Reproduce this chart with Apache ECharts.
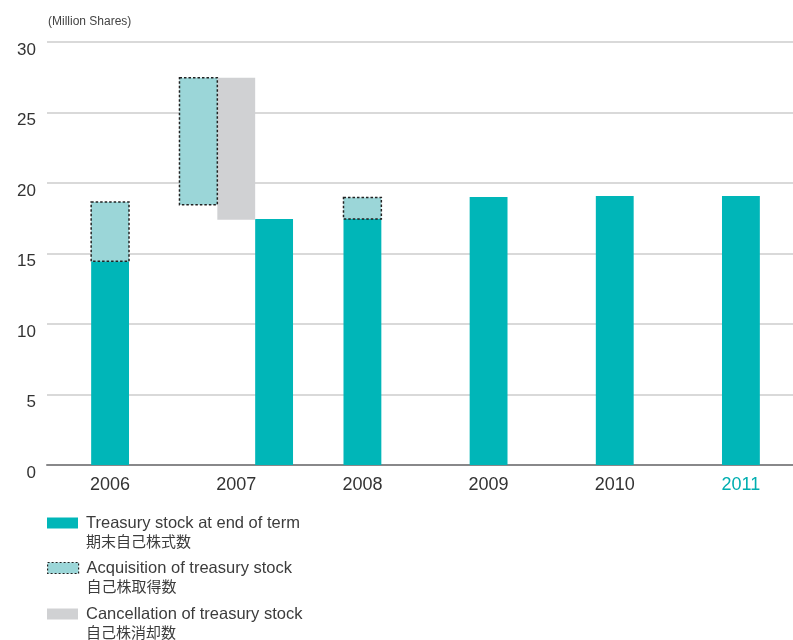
<!DOCTYPE html>
<html>
<head>
<meta charset="utf-8">
<script src="https://cdn.jsdelivr.net/npm/echarts@6/dist/echarts.min.js"></script>
<style>html,body{margin:0;padding:0;background:#fff}#c{width:793px;height:640px}</style>
</head>
<body>
<div id="c"></div>
<script>
var years = ['2006', '2007', '2008', '2009', '2010', '2011'];
var yTicks = [0, 5, 10, 15, 20, 25, 30];
var endStock = [14.45, 17.45, 17.45, 19.0, 19.07, 19.07];
var acqFrom = [14.45, 18.45, 17.45, null, null, null];
var acqTo = [18.65, 27.47, 18.98, null, null, null];
var cancelFrom = [null, 17.4, null, null, null, null];
var cancelTo = [null, 27.47, null, null, null, null];
var seriesNames = ['Treasury stock at end of term', 'Acquisition of treasury stock', 'Cancellation of treasury stock'];
var seriesNamesJa = ['期末自己株式数', '自己株取得数', '自己株消却数'];

var TEAL = '#00b6b8', LIGHT = '#9bd6d8', GRAY = '#d0d1d3';
var FONT = "'Liberation Sans', Arial, sans-serif";

// slot layout: when a year has a cancellation, acquisition | cancellation | end sit side by side;
// otherwise all bars of the year share the centre slot.
function slotFor(i, kind) {
  if (cancelTo[i] == null) return 0;
  return kind === 'acq' ? -1 : (kind === 'cancel' ? 0 : 1);
}
function build(fromArr, toArr, kind) {
  var out = [];
  for (var i = 0; i < years.length; i++) {
    if (toArr[i] == null) continue;
    out.push([i, fromArr ? fromArr[i] : 0, toArr[i], slotFor(i, kind)]);
  }
  return out;
}
function makeRender(style) {
  return function (params, api) {
    var cat = api.value(0), lo = api.value(1), hi = api.value(2), slot = api.value(3);
    var band = api.size([1, 0])[0];
    var w = band * 0.3;
    var pLo = api.coord([cat, lo]);
    var pHi = api.coord([cat, hi]);
    var x = pLo[0] + slot * w - w / 2;
    return {
      type: 'rect',
      shape: { x: x, y: pHi[1], width: w, height: pLo[1] - pHi[1] },
      style: style
    };
  };
}

var chart = echarts.init(document.getElementById('c'), null, { renderer: 'canvas' });

function legendFor(idx, top, iconStyle) {
  var item = { name: seriesNames[idx] };
  if (iconStyle) item.itemStyle = iconStyle;
  return {
    data: [item],
    left: 47,
    top: top,
    padding: 0,
    orient: 'vertical',
    icon: 'rect',
    itemWidth: 31,
    itemHeight: 11,
    itemGap: 0,
    selectedMode: false,
    formatter: function (name) {
      return '{en|' + name + '}\n{ja|' + seriesNamesJa[seriesNames.indexOf(name)] + '}';
    },
    textStyle: {
      padding: [18, 0, 0, 3],
      color: '#3c3c3c',
      rich: {
        en: { fontFamily: FONT, fontSize: 16.5, lineHeight: 19, color: '#3c3c3c' },
        ja: { fontFamily: "'Noto Sans CJK JP', sans-serif", fontSize: 15, lineHeight: 17, color: '#3c3c3c' }
      }
    }
  };
}

var option = {
  animation: false,
  backgroundColor: '#fff',
  title: {
    text: '(Million Shares)',
    left: 48,
    top: 16,
    padding: 0,
    textStyle: { fontFamily: FONT, fontSize: 12, fontWeight: 'normal', color: '#444' }
  },
  legend: [
    legendFor(0, 515),
    legendFor(1, 560, { borderColor: '#222', borderWidth: 1.2, borderType: [2, 2] }),
    legendFor(2, 606)
  ],
  grid: { left: 47, top: 42, width: 757, height: 423, containLabel: false, outerBoundsMode: 'none' },
  xAxis: {
    type: 'category',
    data: years,
    boundaryGap: true,
    axisLine: { show: true, lineStyle: { color: '#88888a', width: 2 } },
    axisTick: { show: false },
    splitLine: { show: false },
    axisLabel: {
      margin: 11,
      fontFamily: FONT,
      fontSize: 18,
      lineHeight: 18,
      color: function (v) { return v === '2011' ? '#00aeb0' : '#333'; }
    }
  },
  yAxis: {
    type: 'value',
    min: yTicks[0],
    max: yTicks[yTicks.length - 1],
    interval: 5,
    axisLine: { show: false },
    axisTick: { show: false },
    splitLine: { show: true, lineStyle: { color: '#d9d9d9', width: 2 } },
    axisLabel: {
      margin: 11,
      fontFamily: FONT,
      fontSize: 17,
      verticalAlign: 'top',
      lineHeight: 16,
      color: '#333'
    }
  },
  series: [
    {
      name: seriesNames[0],
      type: 'custom',
      itemStyle: { color: TEAL },
      renderItem: makeRender({ fill: TEAL }),
      encode: { x: 0, y: [1, 2] },
      data: build(null, endStock, 'end'),
      z: 2
    },
    {
      name: seriesNames[2],
      type: 'custom',
      itemStyle: { color: GRAY },
      renderItem: makeRender({ fill: GRAY }),
      encode: { x: 0, y: [1, 2] },
      data: build(cancelFrom, cancelTo, 'cancel'),
      z: 2
    },
    {
      name: seriesNames[1],
      type: 'custom',
      itemStyle: { color: LIGHT },
      renderItem: makeRender({ fill: LIGHT, stroke: '#222', lineWidth: 1.5, lineDash: [2.5, 2] }),
      encode: { x: 0, y: [1, 2] },
      data: build(acqFrom, acqTo, 'acq'),
      z: 3
    }
  ]
};
chart.setOption(option);
</script>
</body>
</html>
